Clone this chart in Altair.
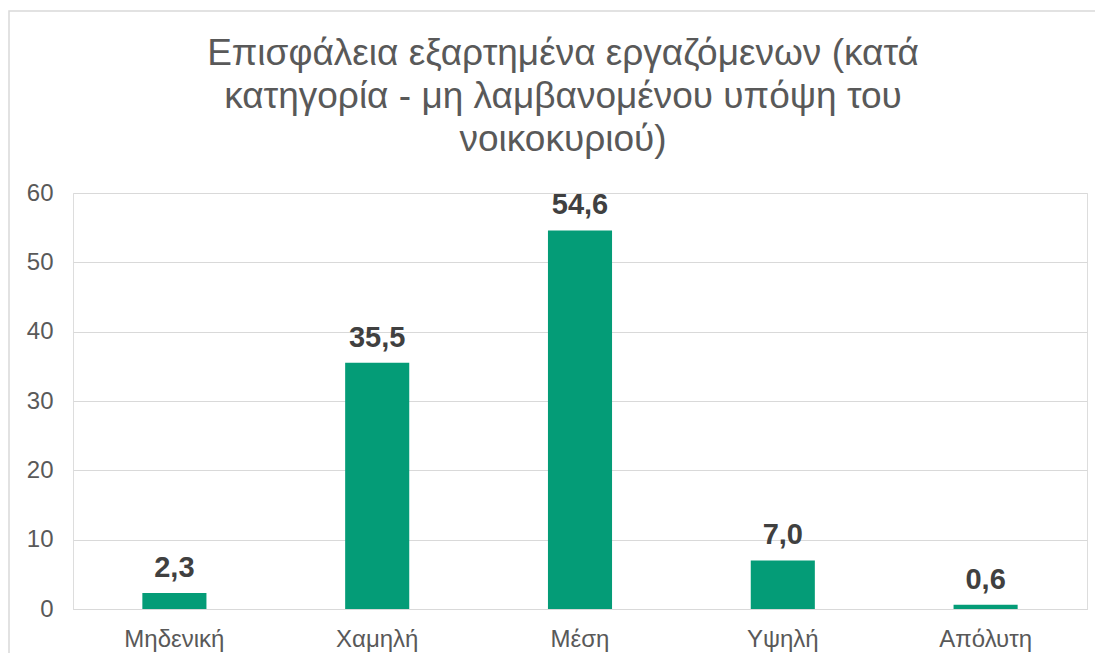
import altair as alt
import pandas as pd

categories = ["Μηδενική", "Χαμηλή", "Μέση", "Υψηλή", "Απόλυτη"]
values = [2.3, 35.5, 54.6, 7.0, 0.6]
labels = ["2,3", "35,5", "54,6", "7,0", "0,6"]
title_lines = ["Επισφάλεια εξαρτημένα εργαζόμενων (κατά",
               "κατηγορία - μη λαμβανομένου υπόψη του",
               "νοικοκυριού)"]

df = pd.DataFrame({"cat": categories, "val": values, "lab": labels})

FONT = "Liberation Sans"
W, H = 1014, 416

x = alt.X("cat:N", sort=categories, title=None,
          scale=alt.Scale(paddingInner=0.684, paddingOuter=0.342),
          axis=alt.Axis(labelAngle=0, labelFont=FONT, labelFontSize=24,
                        labelColor="#595959", ticks=False, domain=True,
                        domainColor="#d9d9d9", labelPadding=18))
y = alt.Y("val:Q", title=None,
          scale=alt.Scale(domain=[0, 60], nice=False),
          axis=alt.Axis(values=[0, 10, 20, 30, 40, 50, 60], labelFont=FONT,
                        labelFontSize=24, labelColor="#595959", ticks=False,
                        domain=False, gridColor="#d9d9d9", gridWidth=1,
                        labelPadding=20))

base = alt.Chart(df)

border = alt.Chart(pd.DataFrame({"a": [0]})).mark_rect(
    fill=None, stroke="#d9d9d9", strokeWidth=1.5
).encode(x=alt.value(-64), x2=alt.value(W + 60), y=alt.value(-182), y2=alt.value(H + 80))

title = alt.Chart(pd.DataFrame({"t": ["\n".join(title_lines)]})).mark_text(
    font=FONT, fontSize=37, color="#595959", lineHeight=43, lineBreak="\n",
    align="center", baseline="alphabetic"
).encode(x=alt.value(W / 2 - 17), y=alt.value(-128), text="t:N")

bars = base.mark_bar(color="#049C77").encode(x=x, y=y)
text = base.mark_text(font=FONT, fontSize=29, fontWeight="bold", color="#404040",
                      baseline="alphabetic", dy=-16).encode(
    x=alt.X("cat:N", sort=categories), y=alt.Y("val:Q"), text="lab:N")

chart = alt.layer(border, title, bars, text).properties(
    width=W, height=H,
    autosize=alt.AutoSizeParams(type="none"),
    padding={"left": 65, "top": 185, "right": 8, "bottom": 44},
).configure_view(stroke=None).configure(background="white")

chart.save("out.html", embed_options={"renderer": "svg", "actions": False})
